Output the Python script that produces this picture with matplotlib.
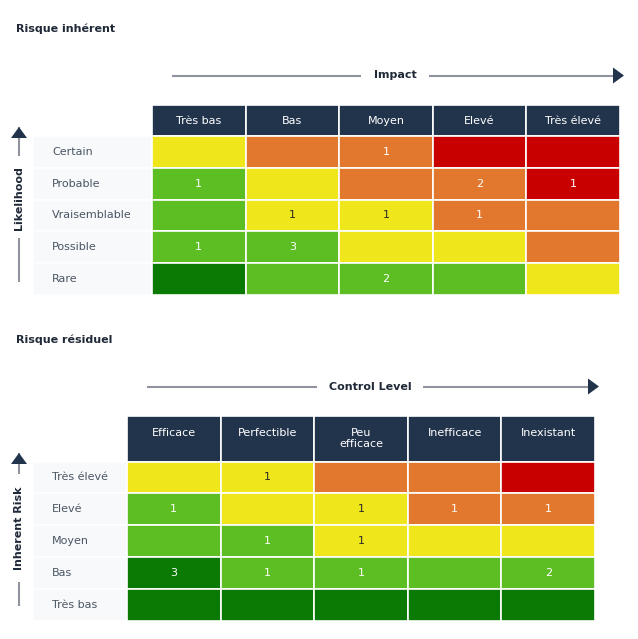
import numpy as np
import matplotlib.pyplot as plt
from matplotlib.patches import Rectangle, Polygon

plt.rcParams['font.family'] = ['DejaVu Sans']

# couleurs des niveaux de risque
palette = {'Y': '#f0e61c', 'O': '#e2782e', 'R': '#c80000',
           'LG': '#5dbe24', 'DG': '#0a7a04'}
navy = '#22344c'
gray = '#8e939d'
label_bg = '#f7f9fb'
label_col = '#4b5563'
fs = 8

# --- Risque inhérent ---
impact_cols = ['Très bas', 'Bas', 'Moyen', 'Elevé', 'Très élevé']
likelihood_rows = ['Certain', 'Probable', 'Vraisemblable', 'Possible', 'Rare']
inh_levels = [['Y', 'O', 'O', 'R', 'R'],
              ['LG', 'Y', 'O', 'O', 'R'],
              ['LG', 'Y', 'Y', 'O', 'O'],
              ['LG', 'LG', 'Y', 'Y', 'O'],
              ['DG', 'LG', 'LG', 'LG', 'Y']]
inh_counts = [[0, 0, 1, 0, 0],
              [1, 0, 0, 2, 1],
              [0, 1, 1, 1, 0],
              [1, 3, 0, 0, 0],
              [0, 0, 2, 0, 0]]

# --- Risque résiduel ---
control_cols = ['Efficace', 'Perfectible', 'Peu\nefficace', 'Inefficace', 'Inexistant']
risk_rows = ['Très élevé', 'Elevé', 'Moyen', 'Bas', 'Très bas']
res_levels = [['Y', 'Y', 'O', 'O', 'R'],
              ['LG', 'Y', 'Y', 'O', 'O'],
              ['LG', 'LG', 'Y', 'Y', 'Y'],
              ['DG', 'LG', 'LG', 'LG', 'LG'],
              ['DG', 'DG', 'DG', 'DG', 'DG']]
res_counts = [[0, 1, 0, 0, 0],
              [1, 0, 1, 1, 1],
              [0, 1, 1, 0, 0],
              [3, 1, 1, 0, 2],
              [0, 0, 0, 0, 0]]

fig = plt.figure(figsize=(6.38, 6.39), dpi=100)
ax = fig.add_axes([0, 0, 1, 1])
ax.set_xlim(0, 638)
ax.set_ylim(639, 0)
ax.axis('off')


def draw_matrix(x0, y0, hh, cw, rh, lab_x0, cols, rows, levels, counts, head_top):
    # en-tête
    for j, c in enumerate(cols):
        ax.add_patch(Rectangle((x0 + j * cw, y0), cw, hh, fc=navy, ec='white', lw=1.2))
        if head_top:
            ax.text(x0 + (j + 0.5) * cw, y0 + 11.5, c, ha='center', va='top',
                    color='white', fontsize=fs, linespacing=1.2)
        else:
            ax.text(x0 + (j + 0.5) * cw, y0 + hh / 2, c, ha='center', va='center',
                    color='white', fontsize=fs)
    yr = y0 + hh
    for i, r in enumerate(rows):
        y = yr + i * rh
        ax.add_patch(Rectangle((lab_x0, y), x0 - lab_x0, rh, fc=label_bg, ec='white', lw=1.2))
        ax.text(lab_x0 + 19, y + rh / 2, r, ha='left', va='center',
                color=label_col, fontsize=fs)
        for j in range(len(cols)):
            lv = levels[i][j]
            ax.add_patch(Rectangle((x0 + j * cw, y), cw, rh, fc=palette[lv], ec='white', lw=1.2))
            n = counts[i][j]
            if n:
                tc = '#2b2b2b' if lv == 'Y' else 'white'
                ax.text(x0 + (j + 0.5) * cw, y + rh / 2, str(n), ha='center', va='center',
                        color=tc, fontsize=fs)


def h_arrow(x1, x2, y, label, xl, gap):
    ax.plot([x1, xl - gap], [y, y], color=gray, lw=1.5, solid_capstyle='butt')
    ax.plot([xl + gap, x2], [y, y], color=gray, lw=1.5, solid_capstyle='butt')
    ax.add_patch(Polygon([[x2, y - 8], [x2 + 11, y], [x2, y + 8]], fc=navy, ec='none', zorder=3))
    ax.text(xl, y, label, ha='center', va='center', fontsize=fs,
            fontweight='bold', color='#1f2937')


def v_arrow(x, y_top, y1, y2, y3, label, yl):
    ax.plot([x, x], [y_top, y1], color=gray, lw=1.5, solid_capstyle='butt')
    ax.plot([x, x], [y2, y3], color=gray, lw=1.5, solid_capstyle='butt')
    ax.add_patch(Polygon([[x - 8, y_top + 11], [x, y_top], [x + 8, y_top + 11]],
                         fc=navy, ec='none', zorder=3))
    ax.text(x, yl, label, ha='center', va='center', rotation=90, fontsize=fs,
            fontweight='bold', color='#1f2937')


# partie haute
ax.text(16, 29, 'Risque inhérent', ha='left', va='center', fontsize=fs,
        fontweight='bold', color='#1f2937')
h_arrow(172, 613, 75.5, 'Impact', 395, 34)
v_arrow(19, 127, 156, 238, 282, 'Likelihood', 198)
draw_matrix(152, 105, 31, 93.6, 31.8, 33, impact_cols, likelihood_rows,
            inh_levels, inh_counts, False)

# partie basse
ax.text(16, 340, 'Risque résiduel', ha='left', va='center', fontsize=fs,
        fontweight='bold', color='#1f2937')
h_arrow(147, 588, 386.5, 'Control Level', 370, 53)
v_arrow(19, 453, 474, 582, 606, 'Inherent Risk', 528)
draw_matrix(127, 416, 45.5, 93.6, 31.8, 33, control_cols, risk_rows,
            res_levels, res_counts, True)

fig.savefig('out.png', dpi=100)
